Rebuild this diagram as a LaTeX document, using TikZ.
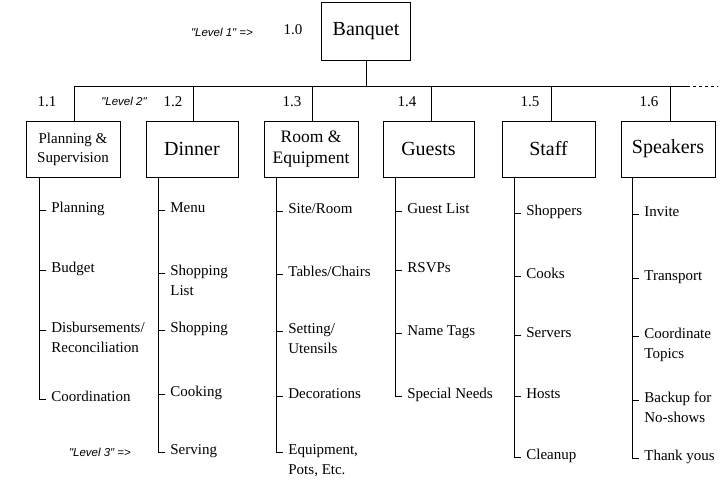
\documentclass[tikz,border=0pt]{standalone}
\usepackage{fontspec}
\setmainfont{Liberation Serif}
\newfontfamily\lab{Liberation Sans}
\begin{document}
\begin{tikzpicture}[x=1pt,y=-1pt,line width=0.8pt,
 box/.style={draw,minimum height=56pt,align=center,inner sep=2pt,font=\fontsize{18}{20}\selectfont},
 item/.style={anchor=west,align=left,font=\fontsize{15}{20}\selectfont,inner sep=1pt},
 num/.style={font=\fontsize{15}{16}\selectfont},
 lvl/.style={font=\lab\itshape\fontsize{11.5}{12}\selectfont}]
\useasboundingbox (0,0) rectangle (727,491);
\node[box,minimum width=89pt,minimum height=58pt,font=\fontsize{20}{22}\selectfont] (b) at (366,31) {Banquet};
\node[lvl] (l1) at (222,32) {"Level 1" =>};
\node[num] (n0) at (293,30) {1.0};
\coordinate (bus) at (366,86);
\draw (b.south) -- (bus);
\coordinate (busL) at (74,86); \coordinate (busR) at (687,86); \coordinate (busE) at (718,86);
\draw (busL) -- (busR); \draw[dashed] (busR) -- (busE);
\node[lvl] (l2) at (124,101) {"Level 2"};
% boxes
\foreach \n/\xl/\xr/\d/\t/\f/\g in {1/26/120/74/{Planning \&\\Supervision}/15/19,2/146/238/193/Dinner/20/22,3/264/358/312/{Room \&\\Equipment}/17.5/21,4/383/474/431/Guests/20/22,5/502/595/551/Staff/20/22,6/621/715/670/Speakers/20/22}{
 \pgfmathsetmacro\w{\xr-\xl}
 \pgfmathsetmacro\cx{(\xl+\xr)/2}
 \node[box,minimum width=\w pt,font=\fontsize{\f}{\g}\selectfont] (c\n) at (\cx,149) {\t};
 \coordinate (d\n) at (\d,86);
 \draw (d\n) -- (c\n.north -| d\n);
}
\node[num] at (47,102) {1.1};
\node[num] at (173,102) {1.2};
\node[num] at (292,102) {1.3};
\node[num] at (407,102) {1.4};
\node[num] at (530,102) {1.5};
\node[num] at (649,102) {1.6};
% columns
\foreach \n/\x/\list in {
 1/39/{210/Planning,270/Budget,330/{Disbursements/\\Reconciliation},399/Coordination},
 2/158/{210/Menu,273/{Shopping\\List},330/Shopping,394/Cooking,452/Serving},
 3/276/{211/{Site/Room},274/{Tables/Chairs},331/{Setting/\\Utensils},396/Decorations,452/{Equipment,\\Pots, Etc.}},
 4/395/{211/Guest List,270/RSVPs,333/Name Tags,396/Special Needs},
 5/514/{213/Shoppers,276/Cooks,335/Servers,396/Hosts,457/Cleanup},
 6/632/{214/Invite,278/Transport,336/{Coordinate\\Topics},400/{Backup for\\No-shows},458/Thank yous}}{
 \foreach \y/\t [count=\i] in \list {
   \node[item,anchor=north west] (t\n-\i) at (\x+11,\y-9) {\t};
   \draw (\x,\y) -- (\x+7,\y);
   \xdef\last{\y}
 }
 \draw (\x,177) -- (\x,\last);
}
\node[lvl] (l3) at (100,452) {"Level 3" =>};
\end{tikzpicture}
\end{document}
